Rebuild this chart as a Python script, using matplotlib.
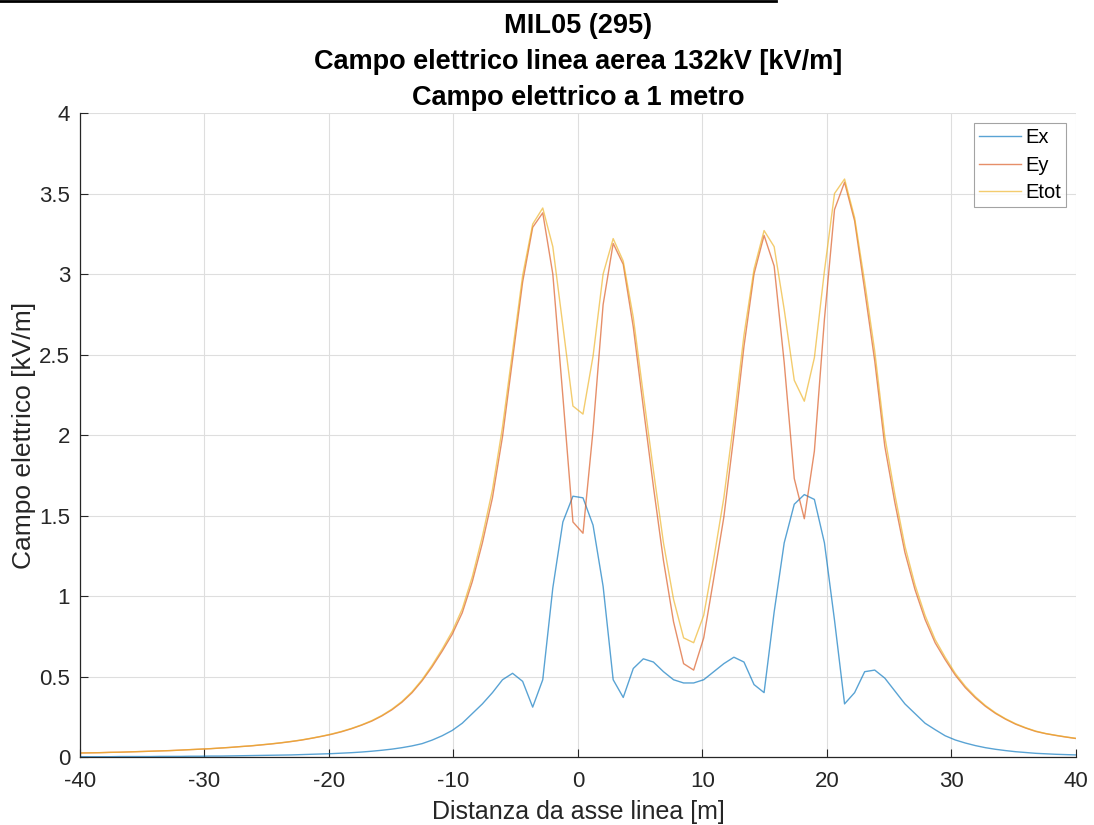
import matplotlib
matplotlib.use("Agg")

import matplotlib.pyplot as plt
import numpy as np
from matplotlib.lines import Line2D

# distance from line axis [m] (100 samples, -40..40)
x_m = np.linspace(-40, 40, 100)

ex = [
    0.002, 0.002, 0.002, 0.002, 0.003, 0.003, 0.003, 0.003, 0.004, 0.004,
    0.004, 0.005, 0.005, 0.006, 0.006, 0.007, 0.008, 0.009, 0.010, 0.011,
    0.012, 0.013, 0.015, 0.017, 0.019, 0.021, 0.024, 0.027, 0.031, 0.036,
    0.042, 0.049, 0.058, 0.069, 0.083, 0.105, 0.132, 0.165, 0.21, 0.27,
    0.33, 0.40, 0.48, 0.52, 0.47, 0.31, 0.48, 1.05, 1.46, 1.62,
    1.61, 1.44, 1.06, 0.48, 0.37, 0.55, 0.61, 0.59, 0.53, 0.48,
    0.46, 0.46, 0.48, 0.53, 0.58, 0.62, 0.59, 0.45, 0.40, 0.90,
    1.33, 1.57, 1.63, 1.60, 1.33, 0.85, 0.33, 0.40, 0.53, 0.54,
    0.49, 0.41, 0.33, 0.27, 0.21, 0.17, 0.132, 0.106, 0.087, 0.071,
    0.058, 0.048, 0.040, 0.033, 0.028, 0.023, 0.020, 0.017, 0.015, 0.013,
]

ey = [
    0.025, 0.026, 0.027, 0.029, 0.030, 0.032, 0.034, 0.036, 0.038, 0.040,
    0.043, 0.046, 0.049, 0.052, 0.056, 0.060, 0.065, 0.069, 0.075, 0.081,
    0.088, 0.096, 0.105, 0.116, 0.128, 0.141, 0.157, 0.176, 0.198, 0.223,
    0.255, 0.293, 0.340, 0.399, 0.473, 0.56, 0.657, 0.762, 0.896, 1.09,
    1.33, 1.61, 1.99, 2.47, 2.95, 3.29, 3.38, 3.00, 2.24, 1.46,
    1.39, 2.03, 2.81, 3.19, 3.06, 2.67, 2.17, 1.68, 1.22, 0.84,
    0.58, 0.54, 0.74, 1.11, 1.49, 2.00, 2.55, 3.00, 3.24, 3.05,
    2.45, 1.73, 1.48, 1.90, 2.72, 3.40, 3.57, 3.33, 2.90, 2.46,
    1.93, 1.58, 1.27, 1.04, 0.855, 0.71, 0.605, 0.509, 0.431, 0.368,
    0.315, 0.271, 0.235, 0.204, 0.180, 0.159, 0.145, 0.134, 0.124, 0.115,
]

etot = [
    0.025, 0.026, 0.027, 0.029, 0.030, 0.032, 0.034, 0.036, 0.038, 0.040,
    0.043, 0.046, 0.049, 0.052, 0.056, 0.060, 0.065, 0.070, 0.076, 0.082,
    0.089, 0.097, 0.106, 0.117, 0.129, 0.143, 0.159, 0.178, 0.200, 0.226,
    0.258, 0.297, 0.345, 0.405, 0.48, 0.57, 0.67, 0.78, 0.92, 1.12,
    1.37, 1.66, 2.05, 2.52, 2.99, 3.31, 3.41, 3.17, 2.68, 2.18,
    2.13, 2.49, 3.00, 3.22, 3.08, 2.73, 2.25, 1.78, 1.33, 0.98,
    0.74, 0.71, 0.88, 1.23, 1.61, 2.09, 2.62, 3.03, 3.27, 3.17,
    2.78, 2.34, 2.21, 2.48, 3.02, 3.50, 3.59, 3.35, 2.95, 2.52,
    1.99, 1.63, 1.31, 1.07, 0.88, 0.73, 0.62, 0.52, 0.44, 0.375,
    0.32, 0.275, 0.238, 0.207, 0.182, 0.161, 0.146, 0.135, 0.125, 0.116,
]

x_ticks = [-40, -30, -20, -10, 0, 10, 20, 30, 40]
y_ticks = [0, 0.5, 1, 1.5, 2, 2.5, 3, 3.5, 4]
y_tick_labels = ["0", "0.5", "1", "1.5", "2", "2.5", "3", "3.5", "4"]

plt.rcParams["font.family"] = ["Liberation Sans", "DejaVu Sans"]
plt.rcParams["axes.unicode_minus"] = False

fig = plt.figure(figsize=(10.94, 8.25), dpi=100)
ax = fig.add_axes([0.0731, 0.0824, 0.9104, 0.7806])

dark = "#262626"
ax.plot(x_m, ex, color="#0072BD", linewidth=1.0, alpha=0.65, label="Ex")
ax.plot(x_m, ey, color="#D95319", linewidth=1.0, alpha=0.65, label="Ey")
ax.plot(x_m, etot, color="#EDB120", linewidth=1.0, alpha=0.65, label="Etot")

ax.set_xlim(-40, 40)
ax.set_ylim(0, 4)
ax.set_xticks(x_ticks)
ax.set_yticks(y_ticks)
ax.set_yticklabels(y_tick_labels)
ax.tick_params(direction="in", length=6, width=0.8, colors=dark, labelsize=16)
ax.tick_params(axis="x", pad=10)
ax.tick_params(axis="y", pad=7)
ax.grid(True, color="#dedede", linewidth=0.8)
ax.set_axisbelow(True)
for side in ["top", "right"]:
    ax.spines[side].set_visible(False)
for side in ["left", "bottom"]:
    ax.spines[side].set_color(dark)
    ax.spines[side].set_linewidth(0.9)

ax.set_xlabel("Distanza da asse linea [m]", fontsize=18, color=dark, labelpad=6)
ax.set_ylabel("Campo elettrico [kV/m]", fontsize=19, color=dark, labelpad=2)
ax.set_title("MIL05 (295)\nCampo elettrico linea aerea 132kV [kV/m]\nCampo elettrico a 1 metro",
             fontsize=19.5, fontweight="bold", linespacing=1.48, pad=6)

leg = ax.legend(loc="upper right", fontsize=14.5, frameon=True, fancybox=False,
                borderaxespad=0.5, handlelength=2.1, handletextpad=0.2,
                labelspacing=0.42, borderpad=0.25)
leg.get_frame().set_edgecolor("#8c8c8c")
leg.get_frame().set_linewidth(0.8)

# thin black rule at the top edge of the picture
fig.add_artist(Line2D([0, 0.709], [0.9985, 0.9985], transform=fig.transFigure,
                      color="black", linewidth=2))

fig.savefig("out.png", dpi=100)
plt.close(fig)
